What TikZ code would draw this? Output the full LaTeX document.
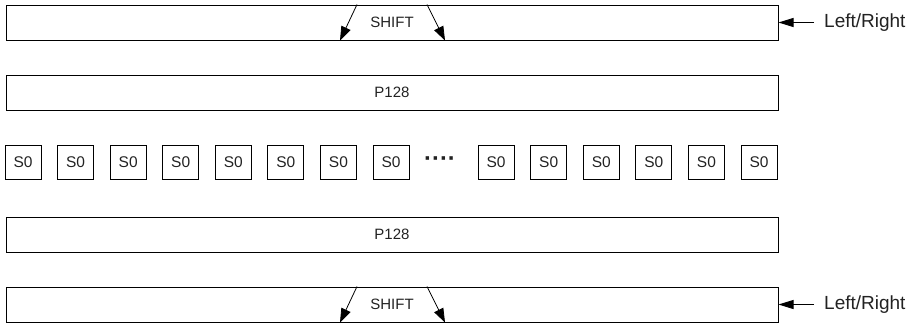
\documentclass[tikz,border=0pt]{standalone}
\usepackage{fontspec}
\setmainfont{Liberation Sans}
\usetikzlibrary{arrows.meta,calc}
\definecolor{ink}{HTML}{222222}
\begin{document}
\begin{tikzpicture}[x=1pt,y=-1pt,
  bar/.style={draw, line width=1pt, minimum width=772pt, minimum height=35pt,
    inner sep=0pt, text=ink, font=\fontsize{15}{17}\selectfont},
  cell/.style={draw, line width=0.9pt, minimum width=36pt, minimum height=34pt,
    inner sep=0pt, text=ink, font=\fontsize{15.5}{17}\selectfont},
  shiftarrow/.style={-{Triangle[length=14pt,width=10pt]}, line width=0.8pt},
  sidearrow/.style={-{Triangle[length=15pt,width=9pt]}, line width=0.9pt},
  side/.style={anchor=west, inner sep=0pt, text=ink, font=\fontsize{19}{21}\selectfont}]
\useasboundingbox (0,0) rectangle (916,327);

% shift registers, permutation layers and S-box row
\node[bar] (shiftA) at (392,22.5)  {SHIFT};
\node[bar] (permA)  at (392,92.5)  {P128};
\node[bar] (permB)  at (392,234.5) {P128};
\node[bar] (shiftB) at (392,304.5) {SHIFT};

\foreach \i in {0,1,2,3,4,5,6,7,9,10,11,12,13,14}{
  \node[cell] (s\i) at ({23+\i*52.57},162.5) {S0};
}
\node[inner sep=0pt, text=ink, font=\fontsize{24}{26}\bfseries] (dots) at (440,162) {····};

% shift direction arrows inside the shift bars
\foreach \b in {shiftA,shiftB}{
  \draw[shiftarrow] ($(\b.north)+(-35,0)$) -- ($(\b.south)+(-52,0)$);
  \draw[shiftarrow] ($(\b.north)+(35,0)$) -- ($(\b.south)+(53,0)$);
}

% direction control inputs
\node[side] (lrA) at (824,22.5)  {Left/Right};
\node[side] (lrB) at (824,304.5) {Left/Right};
\draw[sidearrow] ([xshift=-10pt]lrA.west) -- (shiftA.east);
\draw[sidearrow] ([xshift=-10pt]lrB.west) -- (shiftB.east);
\end{tikzpicture}
\end{document}
